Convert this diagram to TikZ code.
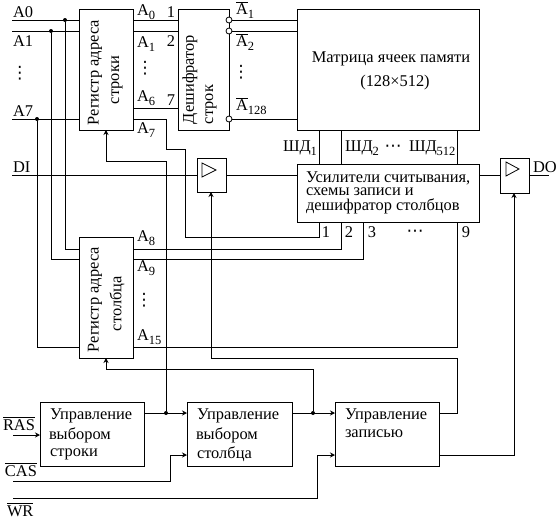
\documentclass[tikz,border=0pt]{standalone}
\usepackage{fontspec}
\setmainfont{Liberation Serif}
\newfontfamily\symfont{DejaVu Sans}
\usetikzlibrary{arrows.meta,calc}
\newcommand\sbs[1]{\raisebox{-3.5pt}{\fontsize{12.5}{12.5}\selectfont #1}}
\newcommand\ovl[1]{\leavevmode\vbox{\hrule height .9pt\kern 1.2pt\hbox{#1}}}
\newcommand\vd{{\symfont\fontsize{17}{17}\selectfont ⋮}}
\newcommand\hd{{\symfont\fontsize{17}{17}\selectfont ⋯}}
\tikzset{
  x=1pt,y=-1pt,
  every node/.style={font=\fontsize{16.4}{16.4}\selectfont,inner sep=0pt,outer sep=0pt},
  wire/.style={line width=1pt},
  sig/.style={wire,-{Stealth[length=5pt,width=5pt]}},
  blk/.style={draw,line width=1pt,minimum width=#1,anchor=north west},
  blk/.default=54pt,
  lbl/.style={anchor=west},
  rot/.style={rotate=90,anchor=west},
  junc/.style={circle,fill=black,minimum size=4pt},
  inv/.style={circle,draw,fill=white,line width=.8pt,minimum size=6pt},
}
\begin{document}
\begin{tikzpicture}
\useasboundingbox (0,0) rectangle (558,520);
% blocks
\node[blk=54pt,minimum height=121pt] (rr) at (79,9) {};
\node[blk=51pt,minimum height=121pt] (dec) at (178,9) {};
\node[blk=182pt,minimum height=121pt] (mat) at (297,9) {};
\node[blk=182pt,minimum height=58pt] (amp) at (297,164) {};
\node[blk=54pt,minimum height=121pt] (rc) at (79,237) {};
\node[blk=29pt,minimum height=34pt] (bi) at (197,158) {};
\node[blk=29pt,minimum height=35pt] (bo) at (500,158) {};
\node[blk=104.5pt,minimum height=64pt] (c1) at (40,402) {};
\node[blk=105pt,minimum height=64pt] (c2) at (187,402) {};
\node[blk=104pt,minimum height=64pt] (c3) at (335,402) {};
% triangles in buffers
\draw[line width=.8pt] (202,163) -- (216,170) -- (202,177) -- cycle;
\draw[line width=.8pt] (506,162) -- (519,169) -- (506,176) -- cycle;
% free ends
\coordinate (a0) at (12,20);
\coordinate (a1) at (12,31);
\coordinate (a7) at (12,119);
\coordinate (di) at (12,175);
\coordinate (do) at (549,175);
\coordinate (ras) at (13,435);
\coordinate (cas) at (13,481);
\coordinate (wr) at (13,498);
% junctions
\node[junc] (j0) at (65,20) {};
\node[junc] (j1) at (51,31) {};
\node[junc] (j7) at (37,119) {};
\node[junc] (jr) at (166,413) {};
\node[junc] (jc) at (313,413) {};
% address inputs
\draw[wire] (a0) -- (a0 -| rr.west);
\draw[wire] (a1) -- (a1 -| rr.west);
\draw[wire] (a7) -- (a7 -| rr.west);
\draw[wire] (j0) |- (79,249);
\draw[wire] (j1) |- (79,259);
\draw[wire] (j7) |- (79,347);
% DI / DO
\draw[wire] (di) -- (bi.west |- di);
\draw[wire] (bi.east |- di) -- (amp.west |- di);
\draw[wire] (amp.east |- di) -- (bo.west |- di);
\draw[wire] (bo.east |- do) -- (do);
% row register to decoder
\draw[wire] (rr.east |- a0) -- (dec.west |- a0);
\draw[wire] (rr.east |- a1) -- (dec.west |- a1);
\draw[wire] (133,108) -- (178,108);
% decoder to matrix
\draw[wire] (dec.east |- a0) -- (mat.west |- a0);
\draw[wire] (dec.east |- a1) -- (mat.west |- a1);
\draw[wire] (dec.east |- a7) -- (mat.west |- a7);
\node[inv] at (dec.east |- a0) {};
\node[inv] at (dec.east |- a1) {};
\node[inv] at (dec.east |- a7) {};
% data lines
\foreach \x in {319,341,457} \draw[wire] (\x,130) -- (\x,164);
% A7 to column decoder input 1
\draw[wire] (rr.east |- a7) -- (166,119) -- (166,149) -- (185,149) -- (185,237) -- (319,237) -- (319,222);
% column register outputs
\draw[wire] (133,249) -- (341,249) -- (341,222);
\draw[wire] (133,259) -- (363,259) -- (363,222);
\draw[wire] (133,347) -- (457,347) -- (457,222);
% strobes
\draw[sig] (jr) -- (166,161) -- (106,161) -- (rr.south);
\draw[sig] (jc) -- (313,369) -- (106,369) -- (rc.south);
\draw[sig] (c3.east |- jc) -- (457,413) -- (457,358) -- (211,358) -- (211,192);
\draw[sig] (c3.east |- 0,455) -- (514,455) -- (514,193);
% control
\draw[sig] (c1.east |- jr) -- (c2.west |- jr);
\draw[sig] (c2.east |- jr) -- (c3.west |- jr);
\draw[sig] (ras) -- (c1.west |- ras);
\draw[sig] (cas) -- (170,481) -- (170,455) -- (187,455);
\draw[sig] (wr) -- (317,498) -- (317,455) -- (335,455);
% labels
\node[lbl] (t1) at (13,12) {A0};
\node[lbl] (t2) at (13,41) {A1};
\node[lbl] (t3) at (13,111) {A7};
\node[lbl] (t4) at (13,167) {DI};
\node (t5) at (20,73) {\vd};
\node[lbl] (t6) at (137,12) {A\sbs{0}};
\node[lbl] (t7) at (137,44) {A\sbs{1}};
\node[lbl] (t8) at (137,98) {A\sbs{6}};
\node[lbl] (t9) at (137,130) {A\sbs{7}};
\node (t10) at (145,68) {\vd};
\node (t11) at (171,12) {1};
\node (t12) at (171,41) {2};
\node (t13) at (171,100) {7};
\node[lbl] (t14) at (236,10) {\ovl{A}\sbs{1}};
\node[lbl] (t15) at (236,42) {\ovl{A}\sbs{2}};
\node[lbl] (t16) at (236,106) {\ovl{A}\sbs{128}};
\node (t17) at (241,72) {\vd};
\node[rot] (t18) at (95,125) {Регистр адреса};
\node[rot] (t19) at (117,125) {\hspace*{21pt}строки};
\node[rot] (t20) at (190,124) {Дешифратор};
\node[rot] (t21) at (211,124) {строк};
\node[rot] (t22) at (95,352) {Регистр адреса};
\node[rot] (t23) at (117,352) {\hspace*{21pt}столбца};
\node (t24) at (391,59) {Матрица ячеек памяти};
\node (t25) at (395,83) {(128×512)};
\node[lbl] (t26) at (283,148) {ШД\sbs{1}};
\node[lbl] (t27) at (345,148) {ШД\sbs{2}};
\node (t28) at (393,148) {\hd};
\node[lbl] (t29) at (409,148) {ШД\sbs{512}};
\node[lbl] (t30) at (306,178) {Усилители считывания,};
\node[lbl] (t31) at (306,192) {схемы записи и};
\node[lbl] (t32) at (306,206) {дешифратор столбцов};
\node (t33) at (326,232) {1};
\node (t34) at (349,232) {2};
\node (t35) at (372,232) {3};
\node (t36) at (415,233) {\hd};
\node (t37) at (466,232) {9};
\node[lbl] (t38) at (533,167) {DO};
\node[lbl] (t39) at (137,238) {A\sbs{8}};
\node[lbl] (t40) at (137,268) {A\sbs{9}};
\node (t41) at (144,300) {\vd};
\node[lbl] (t42) at (137,337) {A\sbs{15}};
\node[lbl] (t43) at (50,416) {Управление};
\node[lbl] (t44) at (49,435) {выбором};
\node[lbl] (t45) at (50,454) {строки};
\node[lbl] (t46) at (197,416) {Управление};
\node[lbl] (t47) at (196,435) {выбором};
\node[lbl] (t48) at (197,454) {столбца};
\node[lbl] (t49) at (345,416) {Управление};
\node[lbl] (t50) at (345,434) {записью};
\node[lbl] (t51) at (3,424) {\ovl{RAS}};
\node[lbl] (t52) at (5,470) {\ovl{CAS}};
\node[lbl] (t53) at (7,510) {\ovl{WR}};
\end{tikzpicture}
\end{document}
